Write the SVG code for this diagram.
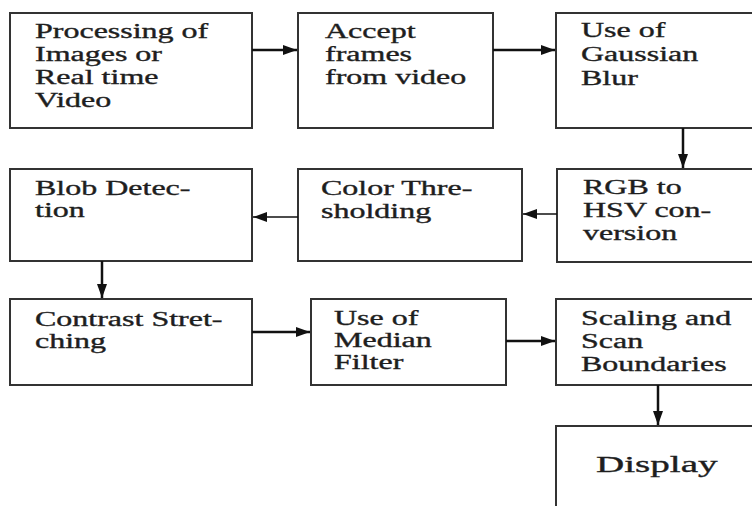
<svg xmlns="http://www.w3.org/2000/svg" width="752" height="506" viewBox="0 0 752 506">
<style>
.box{fill:#fff;stroke:#333;stroke-width:2}
.t{font-family:"Liberation Serif","Times New Roman",serif;font-size:20px;fill:#1e1e1e;stroke:#1e1e1e;stroke-width:0.35}
.big{font-size:23px}
.c{stroke:#111;stroke-width:2.5;fill:none}
.thin{stroke-width:1.5}
</style>
<defs>
<marker id="ah" viewBox="0 0 10 10" refX="10" refY="5" markerWidth="14" markerHeight="10" markerUnits="userSpaceOnUse" orient="auto" preserveAspectRatio="none">
<path d="M0,0 L10,5 L0,10 z" fill="#111"/>
</marker>
</defs>
<rect width="752" height="506" fill="#fff"/>
<g id="n1"><rect class="box" x="10" y="13" width="242" height="115"/>
<text class="t" transform="translate(35,38) scale(1.6,1)"><tspan x="0">Processing of</tspan><tspan x="0" dy="23">Images or</tspan><tspan x="0" dy="23">Real time</tspan><tspan x="0" dy="23">Video</tspan></text></g>
<g id="n2"><rect class="box" x="298" y="13" width="195" height="115"/>
<text class="t" transform="translate(325,38) scale(1.6,1)"><tspan x="0">Accept</tspan><tspan x="0" dy="23">frames</tspan><tspan x="0" dy="23">from video</tspan></text></g>
<g id="n3"><rect class="box" x="556" y="13" width="210" height="115"/>
<text class="t" transform="translate(581,37) scale(1.6,1)"><tspan x="0">Use of</tspan><tspan x="0" dy="24">Gaussian</tspan><tspan x="0" dy="24">Blur</tspan></text></g>
<g id="n4"><rect class="box" x="557" y="169" width="210" height="93"/>
<text class="t" transform="translate(583,194) scale(1.6,1)"><tspan x="0">RGB to</tspan><tspan x="0" dy="23">HSV con-</tspan><tspan x="0" dy="23">version</tspan></text></g>
<g id="n5"><rect class="box" x="298" y="169" width="224" height="92"/>
<text class="t" transform="translate(321,195) scale(1.6,1)"><tspan x="0">Color Thre-</tspan><tspan x="0" dy="23">sholding</tspan></text></g>
<g id="n6"><rect class="box" x="10" y="169" width="242" height="92"/>
<text class="t" transform="translate(35,195) scale(1.6,1)"><tspan x="0">Blob Detec-</tspan><tspan x="0" dy="22">tion</tspan></text></g>
<g id="n7"><rect class="box" x="10" y="299" width="242" height="86"/>
<text class="t" transform="translate(35,326) scale(1.6,1)"><tspan x="0">Contrast Stret-</tspan><tspan x="0" dy="22">ching</tspan></text></g>
<g id="n8"><rect class="box" x="311" y="299" width="195" height="86"/>
<text class="t" transform="translate(334,325) scale(1.6,1)"><tspan x="0">Use of</tspan><tspan x="0" dy="22">Median</tspan><tspan x="0" dy="22">Filter</tspan></text></g>
<g id="n9"><rect class="box" x="556" y="299" width="210" height="86"/>
<text class="t" transform="translate(581,325) scale(1.6,1)"><tspan x="0">Scaling and</tspan><tspan x="0" dy="23">Scan</tspan><tspan x="0" dy="23">Boundaries</tspan></text></g>
<g id="n10"><rect class="box" x="556" y="426" width="210" height="100"/>
<text class="t big" transform="translate(596,472) scale(1.7,1)">Display</text></g>
<g id="connectors">
<line class="c" x1="252" y1="50" x2="297" y2="50" marker-end="url(#ah)"/>
<line class="c" x1="493" y1="50" x2="555" y2="50" marker-end="url(#ah)"/>
<line class="c" x1="683" y1="128" x2="683" y2="168" marker-end="url(#ah)"/>
<line class="c thin" x1="557" y1="214" x2="523" y2="214" marker-end="url(#ah)"/>
<line class="c thin" x1="298" y1="217" x2="253" y2="217" marker-end="url(#ah)"/>
<line class="c" x1="102" y1="261" x2="102" y2="298" marker-end="url(#ah)"/>
<line class="c" x1="252" y1="332" x2="310" y2="332" marker-end="url(#ah)"/>
<line class="c" x1="506" y1="341" x2="555" y2="341" marker-end="url(#ah)"/>
<line class="c" x1="658" y1="385" x2="658" y2="425" marker-end="url(#ah)"/>
</g>
</svg>
